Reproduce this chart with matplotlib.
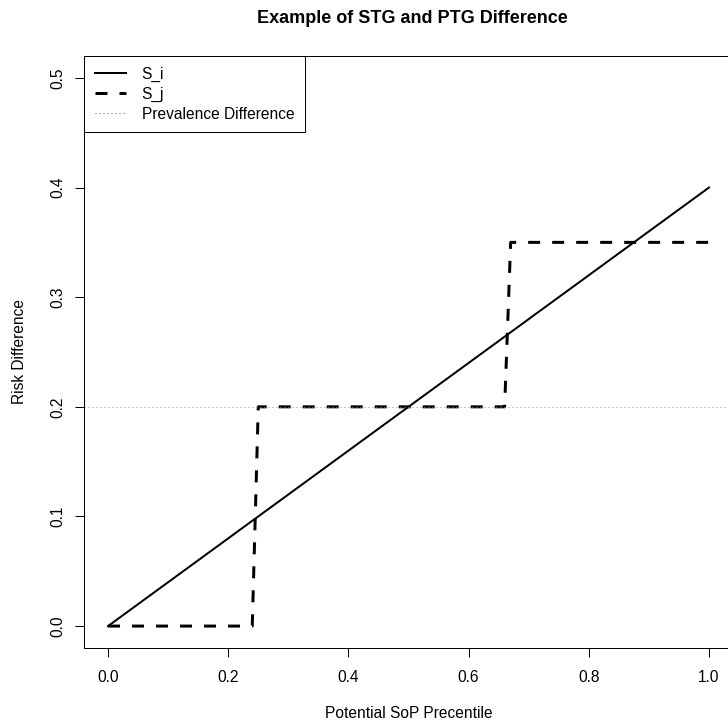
import matplotlib
matplotlib.use("Agg")
import matplotlib.pyplot as plt

# Data
si_x = [0.0, 1.0]
si_y = [0.0, 0.4]
sj_x = [0.0, 0.24, 0.25, 0.66, 0.67, 1.0]
sj_y = [0.0, 0.0, 0.2, 0.2, 0.35, 0.35]
prevalence_diff = 0.2
xticks = [0.0, 0.2, 0.4, 0.6, 0.8, 1.0]
yticks = [0.0, 0.1, 0.2, 0.3, 0.4, 0.5]

plt.rcParams['font.family'] = ['Liberation Sans', 'DejaVu Sans']
fs = 11.2

fig = plt.figure(figsize=(7.28, 7.22), dpi=100)
W, H = 728, 722
L, R, T, B = 84, 733, 56, 648
ax = fig.add_axes([L / W, 1 - B / H, (R - L) / W, (B - T) / H])

ax.plot(si_x, si_y, color='black', lw=1.44, label='S_i')
ax.plot(sj_x, sj_y, color='black', lw=2.16, linestyle=(0, (4, 4)), label='S_j')
ax.axhline(prevalence_diff, color='#909090', lw=0.72, linestyle=(0, (1, 3)),
           label='Prevalence Difference')

ax.set_xlim(-0.04, 1.04)
ax.set_ylim(-0.02, 0.52)
ax.set_xticks(xticks)
ax.set_yticks(yticks)
ax.set_xticklabels([f"{v:.1f}" for v in xticks])
ax.set_yticklabels([f"{v:.1f}" for v in yticks])
ax.tick_params(axis='both', direction='out', length=6.5, width=0.72,
               labelsize=fs, colors='black')
ax.tick_params(axis='x', pad=9.4)
ax.tick_params(axis='y', pad=7)
for lab in ax.get_yticklabels():
    lab.set_rotation(90)
    lab.set_va('center')
    lab.set_ha('right')
for s in ax.spines.values():
    s.set_linewidth(0.72)

ax.set_xlabel('Potential SoP Precentile', fontsize=fs)
ax.xaxis.set_label_coords(0.5, (B - 706) / (B - T))
ax.set_ylabel('Risk Difference', fontsize=fs)
ax.yaxis.set_label_coords((27 - L) / (R - L), 0.5)

fig.text(412 / W, 1 - 23 / H, 'Example of STG and PTG Difference',
         ha='center', va='baseline', fontsize=13, fontweight='bold')

leg = ax.legend(loc='upper left', bbox_to_anchor=(0, 1), borderaxespad=0,
                fancybox=False, frameon=True, edgecolor='black', framealpha=1,
                fontsize=fs, handlelength=2.0, handletextpad=1.0,
                labelspacing=0.3, borderpad=0.7)
leg.get_frame().set_linewidth(0.72)
leg.get_lines()[2].set_color('#555555')

fig.savefig('out.png', dpi=100)
